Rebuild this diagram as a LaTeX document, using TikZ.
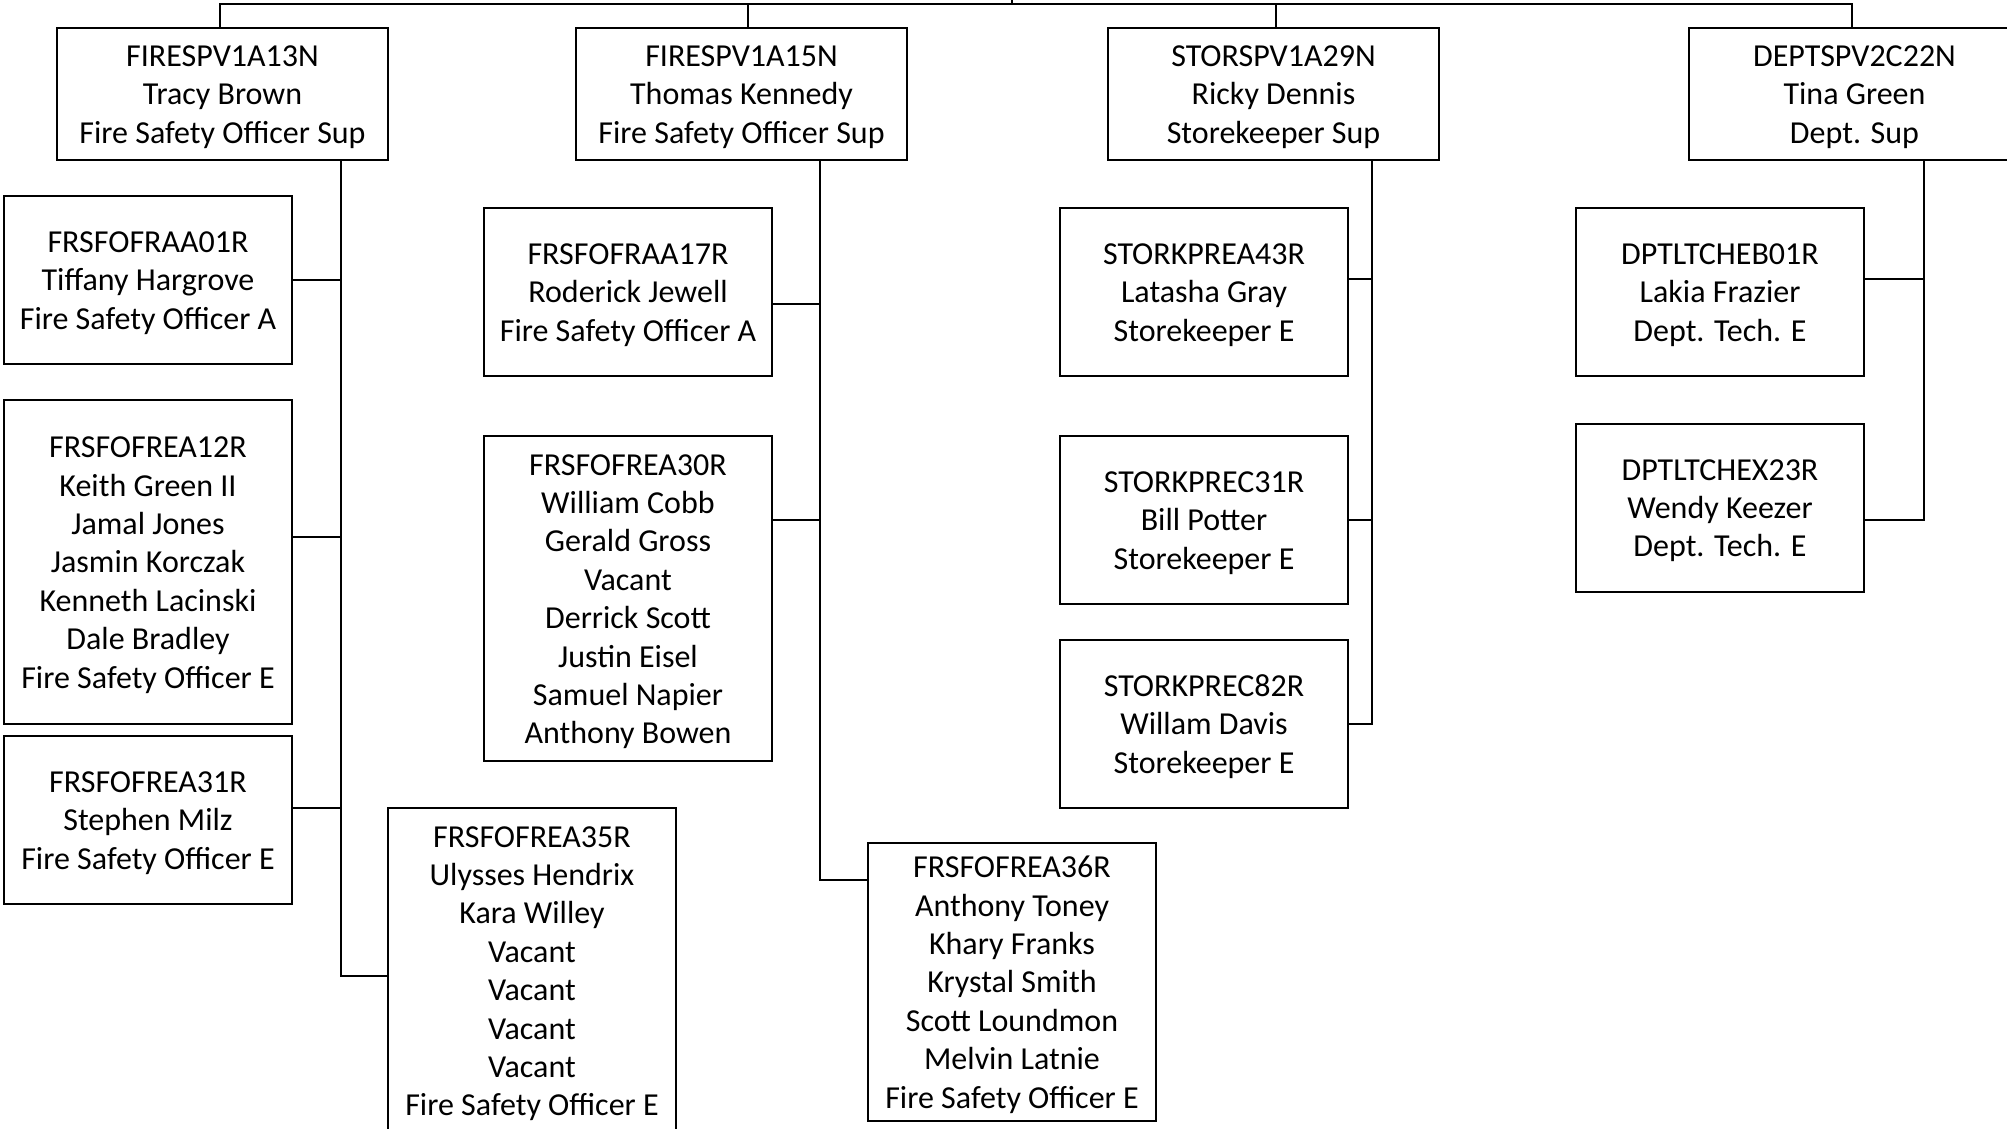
\documentclass[tikz,border=0pt]{standalone}
\usepackage{fontspec}
\setmainfont{Carlito}
\newcommand\toprule{\rule{0pt}{27pt}}
\begin{document}
\begin{tikzpicture}[x=1pt,y=-1pt,
  box/.style={draw=black, line width=2pt, fill=white, align=center, inner sep=0pt, outer sep=0pt, font=\fontsize{32}{38.4}\selectfont},
  sup/.style={box, minimum width=331pt, minimum height=132pt},
  sub/.style={box, minimum width=288pt, minimum height=168pt},
  link/.style={draw=black, line width=2pt}]
\clip (0,0) rectangle (2007,1129);
\fill[white] (0,0) rectangle (2007,1129);

% connectors coordinates
\coordinate (root) at (1012,0);
\coordinate (bar) at (1012,4);
\coordinate (d1) at (220,28);
\coordinate (d2) at (748,28);
\coordinate (d3) at (1276,28);
\coordinate (d4) at (1852,28);
\coordinate (v1) at (341,160);
\coordinate (v2) at (820,160);
\coordinate (v3) at (1372,160);
\coordinate (v4) at (1924,160);

% supervisors
\node[sup] (s1) at (222.5,94) {\toprule FIRESPV1A13N\\Tracy Brown\\Fire Safety Officer Sup};
\node[sup] (s2) at (741.5,94) {\toprule FIRESPV1A15N\\Thomas Kennedy\\Fire Safety Officer Sup};
\node[sup] (s3) at (1273.5,94) {\toprule STORSPV1A29N\\Ricky Dennis\\Storekeeper Sup};
\node[sup] (s4) at (1854.5,94) {\toprule DEPTSPV2C22N\\Tina Green\\Dept. Sup};

% group 1
\node[sub] (a01) at (148,280) {\toprule FRSFOFRAA01R\\Tiffany Hargrove\\Fire Safety Officer A};
\node[sub, minimum height=324pt] (a12) at (148,562) {\toprule FRSFOFREA12R\\Keith Green II\\Jamal Jones\\Jasmin Korczak\\Kenneth Lacinski\\Dale Bradley\\Fire Safety Officer E};
\node[sub] (a31) at (148,820) {\toprule FRSFOFREA31R\\Stephen Milz\\Fire Safety Officer E};
\node[sub, minimum height=325pt] (a35) at (532,970.5) {\toprule FRSFOFREA35R\\Ulysses Hendrix\\Kara Willey\\Vacant\\Vacant\\Vacant\\Vacant\\Fire Safety Officer E};

% group 2
\node[sub] (a17) at (628,292) {\toprule FRSFOFRAA17R\\Roderick Jewell\\Fire Safety Officer A};
\node[sub, minimum height=325pt] (a30) at (628,598.5) {\toprule FRSFOFREA30R\\William Cobb\\Gerald Gross\\Vacant\\Derrick Scott\\Justin Eisel\\Samuel Napier\\Anthony Bowen};
\node[sub, minimum height=278pt] (a36) at (1012,982) {\toprule FRSFOFREA36R\\Anthony Toney\\Khary Franks\\Krystal Smith\\Scott Loundmon\\Melvin Latnie\\Fire Safety Officer E};

% group 3
\node[sub] (a43) at (1204,292) {\toprule STORKPREA43R\\Latasha Gray\\Storekeeper E};
\node[sub] (c31) at (1204,520) {\toprule STORKPREC31R\\Bill Potter\\Storekeeper E};
\node[sub] (c82) at (1204,724) {\toprule STORKPREC82R\\Willam Davis\\Storekeeper E};

% group 4
\node[sub] (b01) at (1720,292) {\toprule DPTLTCHEB01R\\Lakia Frazier\\Dept. Tech. E};
\node[sub] (x23) at (1720,507.5) {\toprule DPTLTCHEX23R\\Wendy Keezer\\Dept. Tech. E};

% top connectors
\draw[link] (root) -- (bar);
\draw[link] (d1) |- (bar);
\draw[link] (d4) |- (bar);
\draw[link] (d2) -- (d2 |- bar);
\draw[link] (d3) -- (d3 |- bar);

% group connectors
\draw[link] (v1) |- (a01.east);
\draw[link] (v1) |- ([yshift=25pt]a12.east);
\draw[link] (v1) |- ([yshift=12pt]a31.east);
\draw[link] (v1) |- ([yshift=-5.5pt]a35.west);

\draw[link] (v2) |- ([yshift=-12pt]a17.east);
\draw[link] (v2) |- ([yshift=78.5pt]a30.east);
\draw[link] (v2) |- ([yshift=102pt]a36.west);

\draw[link] (v3) |- ([yshift=13pt]a43.east);
\draw[link] (v3) |- (c31.east);
\draw[link] (v3) |- (c82.east);

\draw[link] (v4) |- ([yshift=13pt]b01.east);
\draw[link] (v4) |- ([yshift=-12.5pt]x23.east);
\end{tikzpicture}
\end{document}
